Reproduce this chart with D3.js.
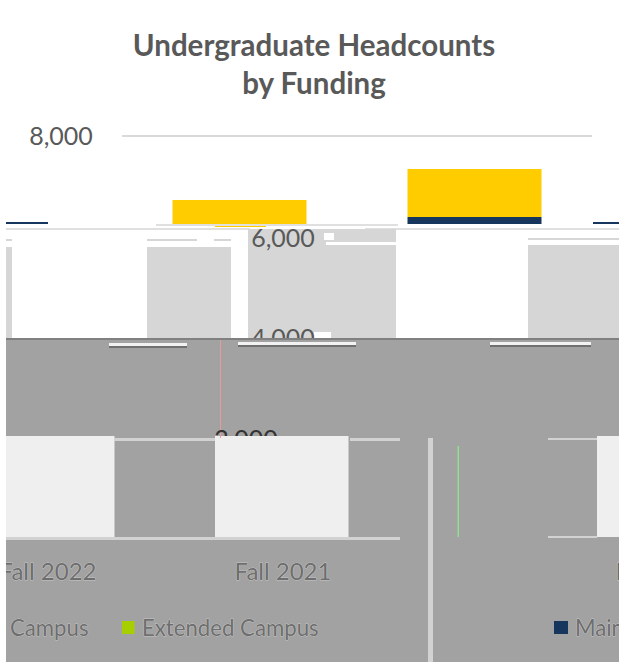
<!DOCTYPE html>
<html><head><meta charset="utf-8">
<script src="https://cdn.jsdelivr.net/npm/d3@7"></script>
<style>html,body{margin:0;padding:0;background:#fff;overflow:hidden}svg{display:block}text{font-family:Lato,"Open Sans",sans-serif}</style>
</head><body><div id="c"></div>
<script>
// ---- data ----
const categories = ["Fall 2022","Fall 2021","Fall 2020"];
const mainCampus = [6160,6396,6290];
const extendedCampus = [0,0,0];
const otherCampus = [573,951,0];
const yTicks = [8000,6000,4000,2000];
const legendLabels = ["Campus","Extended Campus","Main Campus"];
const titleLines = ["Undergraduate Headcounts","by Funding"];

// ---- layout ----
const W=619,H=662,NAVY="#17365d",LIME="#a6ce00",GOLD="#ffcc00",INK="#595959";
const y=d3.scaleLinear().domain([0,8000]).range([540,136]);
const stackData=categories.map((c,i)=>({c,main:mainCampus[i],extended:extendedCampus[i],other:otherCampus[i]}));
const stacked=d3.stack().keys(["main","extended","other"])(stackData);

const svg=d3.select("#c").append("svg").attr("width",W).attr("height",H);
const defs=svg.append("defs");
let clipId=0;
function clip(x0,y0,x1,y1){const id="p"+(clipId++);
  defs.append("clipPath").attr("id",id).append("rect").attr("x",x0).attr("y",y0).attr("width",x1-x0).attr("height",y1-y0);return `url(#${id})`;}
function block(list,color){svg.append("g").selectAll("rect").data(list).join("rect")
  .attr("x",d=>d[0]).attr("y",d=>d[1]).attr("width",d=>d[2]).attr("height",d=>d[3]).attr("fill",color);}

// damaged-render backdrop
block([[6,338,613,324]],"#a2a2a2");
block([[6,338,613,2]],"#808080");

// panes: same data and y scale, each with its own band scale, clip and palette
const panes=[
 {clip:[6,0,619,224],start:172.5,step:235,w:134,colors:{main:NAVY,extended:LIME,other:GOLD}},
 {clip:[240,245,619,338],start:248,step:280,w:148,colors:{main:"#d6d6d6",extended:"#d6d6d6",other:"#d6d6d6"}},
 {clip:[6,436,400,537],start:-19,step:234,w:133.5,colors:{main:"#efefef",extended:"#efefef",other:"#efefef"}},
 {clip:[590,436,619,537],start:129,step:234,w:134.5,colors:{main:"#efefef",extended:"#efefef",other:"#efefef"}}
];
panes.forEach(p=>{
  const x=d3.scaleBand().domain(categories).range([p.start,p.start+p.step*categories.length]);
  const g=svg.append("g").attr("clip-path",clip(...p.clip));
  g.selectAll("g").data(stacked).join("g").attr("fill",s=>p.colors[s.key])
   .selectAll("rect").data(s=>s.filter(d=>d[1]>d[0])).join("rect")
   .attr("x",d=>x(d.data.c)).attr("width",p.w)
   .attr("y",d=>y(d[1])).attr("height",d=>y(d[0])-y(d[1]));
});

// render artefacts
block([[6,222,42,2],[593,222,26,2]],NAVY);
block([[215,225,51,2]],GOLD);
block([[156,224,242,2],[6,228,244,2],[365,228,254,2]],"#e0e0e0");
block([[147,247,84,91],[6,247,6,91],[248,229,148,13],[248,242,78,3],[147,239,50,2],[214,239,17,2],[6,239,6,2],[528,238,91,2]],"#d6d6d6");
block([[324,233,10,7],[314,332,17,6]],"#ffffff");
block([[109,343,78,3],[238,342,118,3],[490,342,101,3]],"#f2f2f2");
block([[109,346,78,2],[238,345,118,2],[490,345,101,2]],"#707070");
block([[220,340,1,98]],"#e89a9a");
block([[114,438,101,3],[350,438,50,3],[6,537,394,3],[548,438,49,2],[548,536,49,2],[428,438,5,224]],"#d2d2d2");
block([[457.5,446,1.5,91]],"#90e090");

// title
svg.append("g").selectAll("text").data(titleLines).join("text")
  .attr("x",314).attr("y",(d,i)=>56+i*38).attr("text-anchor","middle")
  .attr("font-size",29.5).attr("font-weight",700).attr("fill",INK).text(d=>d);

// gridline at the top tick
svg.append("line").attr("x1",122).attr("x2",592).attr("y1",y(8000)).attr("y2",y(8000)).attr("stroke","#d9d9d9").attr("stroke-width",2);

// y tick labels, each clipped the way its band is
const fmt=d3.format(",");
const tickPlace={8000:[61,[0,0,619,338]],6000:[283,[0,0,619,338]],4000:[283,[0,0,619,338]],2000:[246,[6,340,619,436]]};
svg.append("g").selectAll("text").data(yTicks).join("text")
  .attr("clip-path",d=>clip(...tickPlace[d][1]))
  .attr("x",d=>tickPlace[d][0]).attr("y",d=>y(d)+(d===6000?9.5:8.5)).attr("text-anchor","middle")
  .attr("font-size",25).attr("fill",d=>d===2000?"#333":INK).text(d=>fmt(d));

// category labels: positions in the lower band
const labelX=d3.scaleOrdinal().domain(categories).range([48,283,664]);
svg.append("g").attr("clip-path",clip(6,540,619,662)).selectAll("text").data(categories).join("text")
  .attr("x",d=>labelX(d)).attr("y",580).attr("text-anchor","middle")
  .attr("font-size",24).attr("fill","#6e6e6e").attr("stroke","#e4e4e4").attr("stroke-width",.5).attr("paint-order","stroke").text(d=>d);

// legend
const legendX=[10,142,575];
const swatches=[null,LIME,NAVY];
const lg=svg.append("g");
lg.selectAll("text").data(legendLabels).join("text")
  .attr("x",(d,i)=>legendX[i]).attr("y",636).attr("font-size",22.2)
  .attr("fill","#6e6e6e").attr("stroke","#e4e4e4").attr("stroke-width",.5).attr("paint-order","stroke").text(d=>d);
lg.selectAll("rect").data(swatches.filter(Boolean)).join("rect")
  .attr("x",(d,i)=>legendX[i+1]-(i?21:20)).attr("y",621).attr("width",d=>d===NAVY?14:12.5).attr("height",13).attr("fill",d=>d);

// left white strip over everything
block([[0,0,6,H]],"#ffffff");
</script></body></html>
